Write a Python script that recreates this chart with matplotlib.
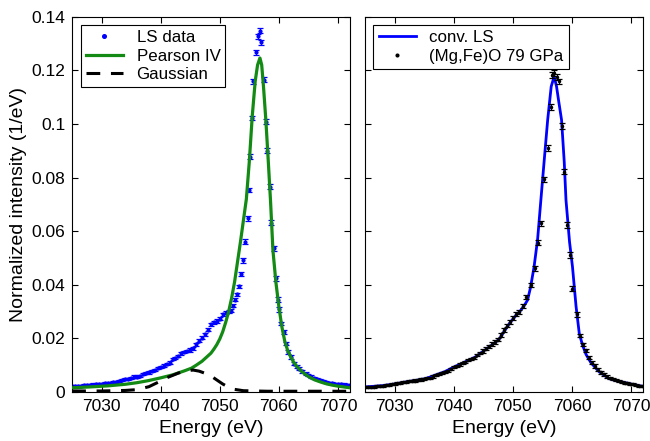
import numpy as np
import matplotlib.pyplot as plt

plt.rcParams['font.family'] = ['Liberation Sans', 'DejaVu Sans']

# ---- left panel: LS data with Pearson IV + Gaussian fit ----
ls_e = [7025.0, 7025.5, 7026.0, 7026.5, 7027.0, 7027.5, 7028.0, 7028.5, 7029.0, 7029.5,
        7030.0, 7030.5, 7031.0, 7031.5, 7032.0, 7032.5, 7033.0, 7033.5, 7034.0, 7034.5,
        7035.0, 7035.5, 7036.0, 7036.5, 7037.0, 7037.5, 7038.0, 7038.5, 7039.0, 7039.5,
        7040.0, 7040.5, 7041.0, 7041.5, 7042.0, 7042.5, 7043.0, 7043.5, 7044.0, 7044.5,
        7045.0, 7045.5, 7046.0, 7046.5, 7047.0, 7047.5, 7048.0, 7048.5, 7049.0, 7049.5,
        7050.0, 7050.5, 7051.0, 7051.5, 7051.9, 7052.3, 7052.6, 7052.9, 7053.2, 7053.55,
        7053.9, 7054.3, 7054.7, 7054.95, 7055.1, 7055.4, 7055.7, 7056.05, 7056.5, 7056.8,
        7057.05, 7057.5, 7057.8, 7058.05, 7058.45, 7058.6, 7059.1, 7059.55, 7059.8, 7060.1,
        7060.35, 7060.8, 7061.2, 7061.6, 7062.05, 7062.6, 7063.0, 7063.45, 7064.0, 7064.55,
        7065.0, 7065.5, 7066.0, 7066.5, 7067.0, 7067.5, 7068.0, 7068.5, 7069.0, 7069.5,
        7070.0, 7070.5, 7071.0, 7071.5, 7072.0]
ls_i = [0.0022, 0.0023, 0.0023, 0.0024, 0.0025, 0.0026, 0.0027, 0.0028, 0.0029, 0.0030,
        0.0031, 0.0032, 0.0034, 0.0035, 0.0037, 0.0039, 0.0042, 0.0045, 0.0048, 0.0050,
        0.0054, 0.0058, 0.0058, 0.0060, 0.0066, 0.0071, 0.0073, 0.0077, 0.0082, 0.0089,
        0.0093, 0.0099, 0.0104, 0.0110, 0.0122, 0.0126, 0.0134, 0.0144, 0.0150, 0.0152,
        0.0157, 0.0163, 0.0178, 0.0192, 0.0203, 0.0215, 0.0232, 0.0252, 0.0260, 0.0265,
        0.0274, 0.0290, 0.0296, 0.0301, 0.0304, 0.0322, 0.0345, 0.0365, 0.0395, 0.0440,
        0.0492, 0.0561, 0.0648, 0.0754, 0.0878, 0.1022, 0.1159, 0.1267, 0.1327, 0.1348,
        0.1304, 0.1165, 0.1009, 0.0901, 0.0766, 0.0632, 0.0536, 0.0424, 0.0345, 0.0308,
        0.0256, 0.0224, 0.0181, 0.0149, 0.0131, 0.0106, 0.0095, 0.0087, 0.0077, 0.0069,
        0.0064, 0.0058, 0.0054, 0.0050, 0.0046, 0.0042, 0.0038, 0.0035, 0.0033, 0.0031,
        0.0030, 0.0029, 0.0028, 0.0027, 0.0026]
ls_err = [0.0004] * 40 + [0.0006] * 20 + [0.0009] * 20 + [0.0006] * 10 + [0.0004] * 15

pearson_e = [7025, 7028, 7031, 7034, 7036, 7038, 7040, 7042, 7044, 7045.2, 7046, 7047,
             7048, 7048.5, 7049, 7049.5, 7050, 7050.5, 7051, 7051.5, 7052, 7052.5, 7053,
             7053.5, 7054, 7054.5, 7055, 7055.5, 7056, 7056.4, 7056.8, 7057.1, 7057.4,
             7057.8, 7058.2, 7058.6, 7059, 7059.5, 7060, 7060.5, 7061, 7061.5, 7062,
             7062.5, 7063, 7063.5, 7064, 7065, 7066, 7067, 7068, 7069, 7070, 7071, 7072]
pearson_i = [0.0016, 0.0019, 0.0023, 0.0029, 0.0035, 0.0043, 0.0053, 0.0064, 0.0079, 0.0089,
             0.0100, 0.0115, 0.0135, 0.0145, 0.0160, 0.0177, 0.0198, 0.0225, 0.0260, 0.0300,
             0.0350, 0.0410, 0.0485, 0.0560, 0.0640, 0.0720, 0.0860, 0.1030, 0.1160, 0.1220,
             0.1246, 0.1220, 0.1140, 0.1015, 0.0866, 0.0710, 0.0529, 0.0410, 0.0320, 0.0245,
             0.0190, 0.0155, 0.0132, 0.0112, 0.0097, 0.0085, 0.0074, 0.0058, 0.0046, 0.0038,
             0.0031, 0.0026, 0.0022, 0.0019, 0.0016]

gauss_e = [7025, 7030, 7034, 7036, 7038, 7039.6, 7041, 7043, 7044.5, 7045.5, 7046.5, 7047.5,
           7048.5, 7049.5, 7050.5, 7051.5, 7052.5, 7054, 7058, 7072]
gauss_i = [0.0004, 0.0004, 0.0006, 0.0009, 0.0020, 0.0037, 0.0053, 0.0071, 0.0080, 0.0082,
           0.0078, 0.0070, 0.0060, 0.0045, 0.0030, 0.0018, 0.0010, 0.0005, 0.0003, 0.0003]

# ---- right panel: (Mg,Fe)O 79 GPa with convolved LS ----
mgfe_e = [7025.0, 7025.5, 7026.0, 7026.5, 7027.0, 7027.5, 7028.0, 7028.5, 7029.0, 7029.5,
          7030.0, 7030.5, 7031.0, 7031.5, 7032.0, 7032.5, 7033.0, 7033.5, 7034.0, 7034.5,
          7035.0, 7035.5, 7036.0, 7036.5, 7037.0, 7037.5, 7038.0, 7038.5, 7039.0, 7039.5,
          7040.0, 7040.5, 7041.0, 7041.5, 7042.0, 7042.5, 7043.0, 7043.5, 7044.0, 7044.5,
          7045.0, 7045.5, 7046.0, 7046.5, 7047.0, 7047.5, 7048.0, 7048.5, 7049.0, 7049.5,
          7050.0, 7050.5, 7051.0, 7051.65, 7052.2, 7053.05, 7053.7, 7054.3, 7054.85, 7055.2,
          7055.9, 7056.45, 7056.55, 7057.0, 7057.45, 7057.85, 7058.25, 7058.7, 7059.25, 7059.7,
          7060.1, 7060.9, 7061.4, 7061.9, 7062.4, 7062.9, 7063.4, 7063.9, 7064.4, 7064.9,
          7065.4, 7065.9, 7066.4, 7066.9, 7067.4, 7067.9, 7068.4, 7068.9, 7069.4, 7069.9,
          7070.4, 7070.9, 7071.4, 7071.9]
mgfe_i = [0.0020, 0.0019, 0.0018, 0.0020, 0.0022, 0.0022, 0.0024, 0.0027, 0.0026, 0.0029,
          0.0031, 0.0034, 0.0033, 0.0036, 0.0039, 0.0040, 0.0042, 0.0043, 0.0045, 0.0047,
          0.0048, 0.0051, 0.0054, 0.0058, 0.0063, 0.0068, 0.0072, 0.0076, 0.0080, 0.0086,
          0.0092, 0.0098, 0.0103, 0.0108, 0.0113, 0.0118, 0.0124, 0.0128, 0.0138, 0.0146,
          0.0154, 0.0162, 0.0170, 0.0178, 0.0188, 0.0196, 0.0212, 0.0232, 0.0248, 0.0262,
          0.0275, 0.0290, 0.0300, 0.0320, 0.0355, 0.0399, 0.0461, 0.0557, 0.0629, 0.0794,
          0.0910, 0.1063, 0.1183, 0.1190, 0.1175, 0.1159, 0.0993, 0.0822, 0.0623, 0.0511,
          0.0386, 0.0290, 0.0210, 0.0178, 0.0155, 0.0128, 0.0110, 0.0097, 0.0083, 0.0074,
          0.0066, 0.0058, 0.0052, 0.0048, 0.0044, 0.0041, 0.0038, 0.0035, 0.0033, 0.0031,
          0.0029, 0.0026, 0.0024, 0.0022]
mgfe_err = [0.0004] * 40 + [0.0007] * 16 + [0.0010] * 16 + [0.0006] * 10 + [0.0004] * 12

conv_e = [7025, 7028, 7030, 7032, 7034, 7035.25, 7037, 7038.5, 7040, 7042, 7043.7, 7045,
          7046.5, 7047.7, 7048.5, 7049.5, 7050.5, 7051.35, 7052.0, 7052.5, 7053.0, 7053.6,
          7054.2, 7054.75, 7055.3, 7055.9, 7056.5, 7057.0, 7057.4, 7057.8, 7058.25, 7058.7,
          7059.0, 7059.6, 7060.1, 7060.7, 7061.25, 7061.8, 7062.4, 7063.2, 7064.0, 7064.65,
          7065.5, 7066.3, 7067.5, 7068.6, 7070, 7072]
conv_i = [0.0019, 0.0024, 0.0030, 0.0038, 0.0045, 0.0050, 0.0064, 0.0076, 0.0093, 0.0113,
          0.0131, 0.0152, 0.0176, 0.0197, 0.0225, 0.0258, 0.0285, 0.0305, 0.0325, 0.0343,
          0.0390, 0.0467, 0.0570, 0.0716, 0.0860, 0.1015, 0.1140, 0.1177, 0.1140, 0.1080,
          0.1015, 0.0860, 0.0716, 0.0560, 0.0467, 0.0320, 0.0218, 0.0175, 0.0140, 0.0110,
          0.0090, 0.0075, 0.0062, 0.0050, 0.0042, 0.0037, 0.0030, 0.0021]

xticks = [7030, 7040, 7050, 7060, 7070]
yticks = [0, 0.02, 0.04, 0.06, 0.08, 0.1, 0.12, 0.14]
yticklabels = ['0', '0.02', '0.04', '0.06', '0.08', '0.1', '0.12', '0.14']

fig = plt.figure(figsize=(6.5, 4.41), dpi=100)
ax1 = fig.add_axes([0.111, 0.111, 0.427, 0.851])
ax2 = fig.add_axes([0.5615, 0.111, 0.4275, 0.851])

green = '#138a13'

# left: data first, then fits on top
ax1.errorbar(ls_e, ls_i, yerr=ls_err, fmt='none', ecolor='b', elinewidth=0.9,
             capsize=2.5, capthick=0.9, zorder=2)
ax1.plot(ls_e, ls_i, '.', color='b', ms=4, label='LS data', zorder=2)
ax1.plot(pearson_e, pearson_i, color=green, lw=2.3, label='Pearson IV', zorder=3)
ax1.plot(gauss_e, gauss_i, color='k', lw=2.2, ls=(0, (4.5, 3.5)), label='Gaussian', zorder=3)

# right: convolved curve, then data on top
ax2.plot(conv_e, conv_i, color='b', lw=2.0, label='conv. LS', zorder=2)
ax2.errorbar(mgfe_e, mgfe_i, yerr=mgfe_err, fmt='none', ecolor='k', elinewidth=0.9,
             capsize=2.5, capthick=0.9, zorder=3)
ax2.plot(mgfe_e, mgfe_i, '.', color='k', ms=3, label='(Mg,Fe)O 79 GPa', zorder=3)

for ax in (ax1, ax2):
    ax.set_xlim(7025, 7072)
    ax.set_ylim(0, 0.14)
    ax.set_xticks(xticks)
    ax.set_yticks(yticks)
    ax.tick_params(direction='in', top=True, right=True, length=4, width=0.8,
                   labelsize=12.5, pad=5)
    ax.set_xlabel('Energy (eV)', fontsize=14, labelpad=4)
    for s in ax.spines.values():
        s.set_linewidth(0.8)

ax1.set_yticklabels(yticklabels)
ax2.set_yticklabels([])
ax1.set_ylabel('Normalized intensity (1/eV)', fontsize=14, labelpad=3)

for ax in (ax1, ax2):
    leg = ax.legend(loc='upper left', fontsize=12.2, fancybox=False, framealpha=1,
                    edgecolor='k', handlelength=2.2, borderpad=0.3, labelspacing=0.2,
                    handletextpad=0.8, borderaxespad=0.5, markerscale=1.3)
    leg.get_frame().set_linewidth(0.8)

fig.savefig('out.png', dpi=100)
